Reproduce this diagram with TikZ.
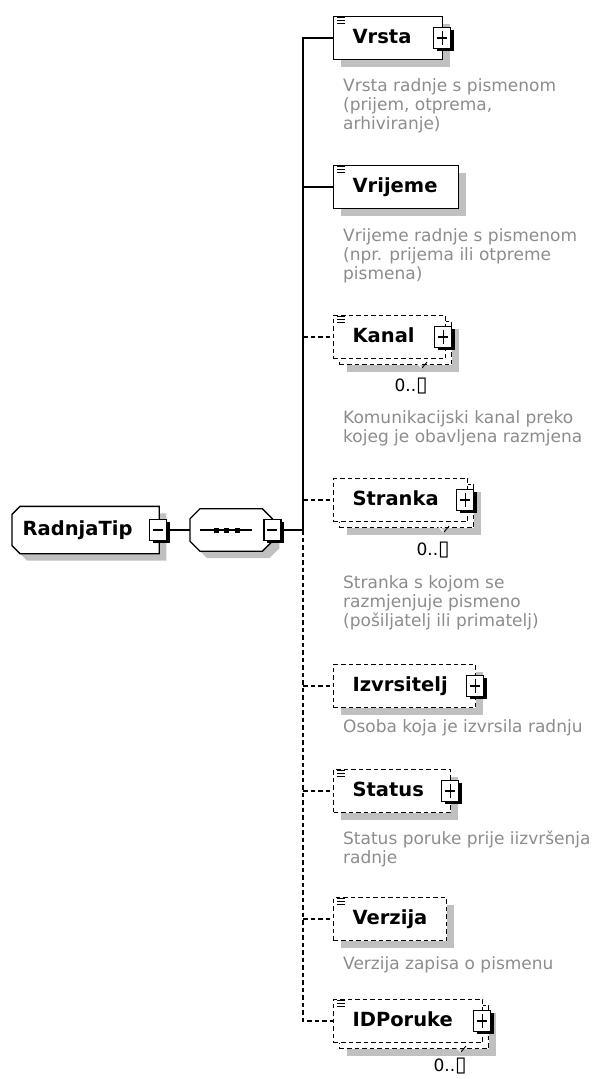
\documentclass[tikz,border=0pt]{standalone}
\usepackage{fontspec}
\setmainfont{DejaVu Sans}
\usetikzlibrary{shadows,calc,backgrounds}
\definecolor{shgray}{HTML}{C0C0C0}
\definecolor{descgray}{HTML}{8C8C8C}
\newcommand{\infbox}{{\fontsize{21}{21}\selectfont ▯}}
\tikzset{
  elem/.style={draw=black, line width=1.3pt, fill=white, inner xsep=19pt, inner ysep=0pt,
    minimum height=43pt, align=left, anchor=west, text height=14pt, text depth=4pt,
    font=\fontsize{19.5}{22}\selectfont\bfseries},
  optelem/.style={elem, line width=1.2pt, dash pattern=on 4.5pt off 3pt},
  shad/.style={general shadow={fill=shgray, shadow xshift=7pt, shadow yshift=-7pt}},
  desc/.style={anchor=north west, align=left, inner sep=0pt, text=descgray,
    font=\fontsize{17}{19}\selectfont},
  mult/.style={anchor=east, inner sep=0pt, font=\fontsize{17}{19}\selectfont},
  btn/.style={draw=black, line width=1.3pt, fill=white, minimum width=17pt,
    minimum height=21pt, inner sep=0pt,
    general shadow={fill=black, shadow xshift=2.8pt, shadow yshift=-2.8pt}},
  minusbtn/.style={btn, path picture={
    \draw[line width=1.2pt] ($(path picture bounding box.west)+(3.5pt,0pt)$) -- ($(path picture bounding box.east)+(-3.5pt,0pt)$);}},
  plusbtn/.style={btn, path picture={
    \draw[line width=1.2pt] ($(path picture bounding box.west)+(3.5pt,0pt)$) -- ($(path picture bounding box.east)+(-3.5pt,0pt)$);
    \draw[line width=1.2pt] ($(path picture bounding box.north)+(0pt,-3.5pt)$) -- ($(path picture bounding box.south)+(0pt,3.5pt)$);}},
  conn/.style={line width=1.5pt},
  optconn/.style={line width=1.3pt, dash pattern=on 4.5pt off 3pt},
  outline/.style={draw=black, line width=1.3pt, fill=white},
  docicon/.pic={\draw[line width=1.1pt] (0pt,1pt) -- (8pt,1pt) (0pt,-2pt) -- (8pt,-2pt) (0pt,-5pt) -- (8pt,-5pt);},
  multtick/.pic={\draw[white, line width=1.3pt] (-13pt,25pt) -- (-6pt,18pt);
                 \draw[line width=0.9pt] (-6pt,18pt) -- (-1pt,24pt);},
}
\begin{document}
\begin{tikzpicture}[x=1pt,y=-1pt]
\useasboundingbox (0,0) rectangle (595,1079);
\coordinate (trunk) at (303,530);

% root element type
\node[elem, draw=none, fill=none, inner xsep=10pt, text width=126pt, minimum height=46pt] (root) at (12,530) {RadnjaTip};
\begin{scope}[on background layer]
\draw[outline, shad] ([xshift=8pt]root.north west) -- (root.north east) -- (root.south east)
  -- ([xshift=8pt]root.south west) -- ([yshift=8pt]root.south west) -- ([yshift=-8pt]root.north west) -- cycle;
\end{scope}

% sequence compositor
\node[minimum width=82pt, minimum height=42pt, inner sep=0pt, anchor=west] (seq) at (190,530) {};
\begin{scope}[on background layer]
\draw[outline, shad] ([xshift=10pt]seq.north west) -- ([xshift=-10pt]seq.north east) -- ([yshift=-10pt]seq.north east)
  -- ([yshift=10pt]seq.south east) -- ([xshift=-10pt]seq.south east) -- ([xshift=10pt]seq.south west)
  -- ([yshift=10pt]seq.south west) -- ([yshift=-10pt]seq.north west) -- cycle;
\end{scope}
\draw[line width=1.2pt] ([xshift=10pt]seq.west) -- ([xshift=62pt]seq.west);
\foreach \dx in {26,36.5,47} \fill ([shift={(\dx pt-2.5pt,2.5pt)}]seq.west) rectangle ++(5pt,-5pt);

\node[minusbtn] (rootm) at ([xshift=-1pt]root.east) {};
\node[minusbtn] (seqm) at (seq.east) {};
\draw[conn] (rootm.east) -- (seq.west);
\draw[conn] (seqm.east) -- (trunk);

% children
\node[elem, shad, text width=71pt] (vrsta) at (333,38) {Vrsta};
\node[elem, shad, text width=87pt] (vrijeme) at (333,187) {Vrijeme};
\node[optelem, shad, text width=74pt] (kanal-b) at (339,343) {};
\node[optelem, text width=74pt] (kanal) at (333,337) {Kanal};
\node[optelem, shad, text width=96pt] (stranka-b) at (339,506) {};
\node[optelem, text width=96pt] (stranka) at (333,500) {Stranka};
\node[optelem, shad, text width=104pt] (izvrsitelj) at (333,686) {Izvrsitelj};
\node[optelem, shad, text width=79pt] (status) at (333,791) {Status};
\node[optelem, shad, text width=75pt] (verzija) at (333,919) {Verzija};
\node[optelem, shad, text width=111pt] (idporuke-b) at (339,1027) {};
\node[optelem, text width=111pt] (idporuke) at (333,1021) {IDPoruke};

% expand buttons
\node[plusbtn] (vrsta-p) at ([xshift=-1pt]vrsta.east) {};
\node[plusbtn] (kanal-p) at ([xshift=-3pt]kanal.east) {};
\node[plusbtn] (stranka-p) at ([xshift=-3pt]stranka.east) {};
\node[plusbtn] (izvrsitelj-p) at ([xshift=-1pt]izvrsitelj.east) {};
\node[plusbtn] (status-p) at ([xshift=-1pt]status.east) {};
\node[plusbtn] (idporuke-p) at ([xshift=-1pt]idporuke.east) {};

% documentation icons
\foreach \n in {vrsta,vrijeme,kanal,status,verzija,idporuke}
  \pic at ([shift={(4pt,-3pt)}]\n.north west) {docicon};

% connectors
\draw[conn] (vrsta.west) -- (vrsta.west -| trunk) -- (trunk);
\draw[conn] (vrijeme.west -| trunk) -- (vrijeme.west);
\draw[optconn] (kanal.west -| trunk) -- (kanal.west);
\draw[optconn] (stranka.west -| trunk) -- (stranka.west);
\draw[optconn] (trunk) -- (idporuke.west -| trunk) -- (idporuke.west);
\draw[optconn] (izvrsitelj.west -| trunk) -- (izvrsitelj.west);
\draw[optconn] (status.west -| trunk) -- (status.west);
\draw[optconn] (verzija.west -| trunk) -- (verzija.west);

% multiplicities
\node[mult] (kanal-m) at (428,386) {0..\infbox};
\node[mult] (stranka-m) at (450,550) {0..\infbox};
\node[mult] (idporuke-m) at (467,1066) {0..\infbox};
\pic at (kanal-m.east) {multtick};
\pic at (stranka-m.east) {multtick};
\pic at ([yshift=-4pt]idporuke-m.east) {multtick};

% annotations
\node[desc] (vrsta-d) at (343,78.5) {Vrsta radnje s pismenom\\(prijem, otprema,\\arhiviranje)};
\node[desc] (vrijeme-d) at (343,228.5) {Vrijeme radnje s pismenom\\(npr. prijema ili otpreme\\pismena)};
\node[desc] (kanal-d) at (343,410.5) {Komunikacijski kanal preko\\kojeg je obavljena razmjena};
\node[desc] (stranka-d) at (343,575.5) {Stranka s kojom se\\razmjenjuje pismeno\\(pošiljatelj ili primatelj)};
\node[desc] (izvrsitelj-d) at (343,719.5) {Osoba koja je izvrsila radnju};
\node[desc] (status-d) at (343,830.5) {Status poruke prije iizvršenja\\radnje};
\node[desc] (verzija-d) at (343,956.5) {Verzija zapisa o pismenu};
\end{tikzpicture}
\end{document}
